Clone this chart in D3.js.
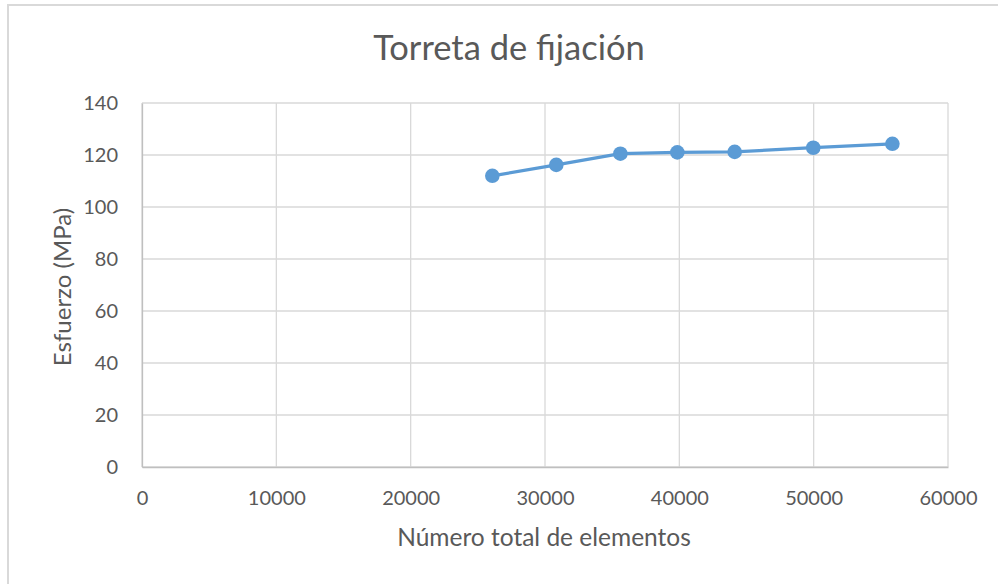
<!DOCTYPE html>
<html>
<head>
<meta charset="utf-8">
<script src="https://cdn.jsdelivr.net/npm/d3@7"></script>
<style>
  html, body { margin: 0; padding: 0; background: #fff; }
  svg { display: block; }
  text { font-family: Lato, "Open Sans", sans-serif; fill: #595959; }
</style>
</head>
<body>
<svg id="chart" width="998" height="584"></svg>
<script>
const title = "Torreta de fijación";
const xTitle = "Número total de elementos";
const yTitle = "Esfuerzo (MPa)";
const elements = [26080, 30840, 35610, 39850, 44120, 49970, 55860];
const stress = [112.0, 116.2, 120.5, 121.0, 121.2, 122.8, 124.3];
const xTicks = [0, 10000, 20000, 30000, 40000, 50000, 60000];
const yTicks = [0, 20, 40, 60, 80, 100, 120, 140];

const svg = d3.select("#chart");
const W = 998, H = 584;
const m = { left: 142, right: 50, top: 103, bottom: 117 };

svg.append("rect").attr("x", 8).attr("y", 5).attr("width", W + 10).attr("height", H + 10)
  .attr("fill", "#fff").attr("stroke", "#d9d9d9").attr("stroke-width", 2);

const x = d3.scaleLinear().domain([0, 60000]).range([m.left, W - m.right]);
const y = d3.scaleLinear().domain([0, 140]).range([H - m.bottom, m.top]);

const grid = svg.append("g");
grid.selectAll(".h").data(yTicks).join("line")
  .attr("x1", x(0)).attr("x2", x(60000))
  .attr("y1", d => y(d)).attr("y2", d => y(d))
  .attr("stroke", "#d9d9d9").attr("stroke-width", 1.3);
grid.selectAll(".v").data(xTicks).join("line")
  .attr("y1", y(0)).attr("y2", y(140))
  .attr("x1", d => x(d)).attr("x2", d => x(d))
  .attr("stroke", "#d9d9d9").attr("stroke-width", 1.3);

const xAxis = svg.append("g").attr("transform", `translate(0,${y(0)})`)
  .call(d3.axisBottom(x).tickValues(xTicks).tickFormat(d3.format("d")).tickSize(0).tickPadding(24));
xAxis.select(".domain").attr("stroke", "#bfbfbf").attr("stroke-width", 1.3);
xAxis.selectAll("text").style("font-size", "20px").attr("fill", "#595959");

const yAxis = svg.append("g").attr("transform", `translate(${x(0)},0)`)
  .call(d3.axisLeft(y).tickValues(yTicks).tickSize(0).tickPadding(24));
yAxis.select(".domain").attr("stroke", "#bfbfbf").attr("stroke-width", 1.3);
yAxis.selectAll("text").style("font-size", "20px").attr("fill", "#595959");

const pts = elements.map((e, i) => [e, stress[i]]);
svg.append("path").datum(pts)
  .attr("fill", "none").attr("stroke", "#5b9bd5").attr("stroke-width", 3.2)
  .attr("stroke-linejoin", "round")
  .attr("d", d3.line().x(d => x(d[0])).y(d => y(d[1])));
svg.selectAll(".pt").data(pts).join("circle")
  .attr("cx", d => x(d[0])).attr("cy", d => y(d[1])).attr("r", 7.3)
  .attr("fill", "#5b9bd5");

svg.append("text").attr("x", 509).attr("y", 60).attr("text-anchor", "middle")
  .style("font-size", "34.5px").text(title);
svg.append("text").attr("x", 544).attr("y", 546).attr("text-anchor", "middle")
  .style("font-size", "24.5px").text(xTitle);
svg.append("text").attr("transform", `translate(71,${(y(0) + y(140)) / 2 + 2}) rotate(-90)`)
  .attr("text-anchor", "middle").style("font-size", "24px").text(yTitle);
</script>
</body>
</html>
